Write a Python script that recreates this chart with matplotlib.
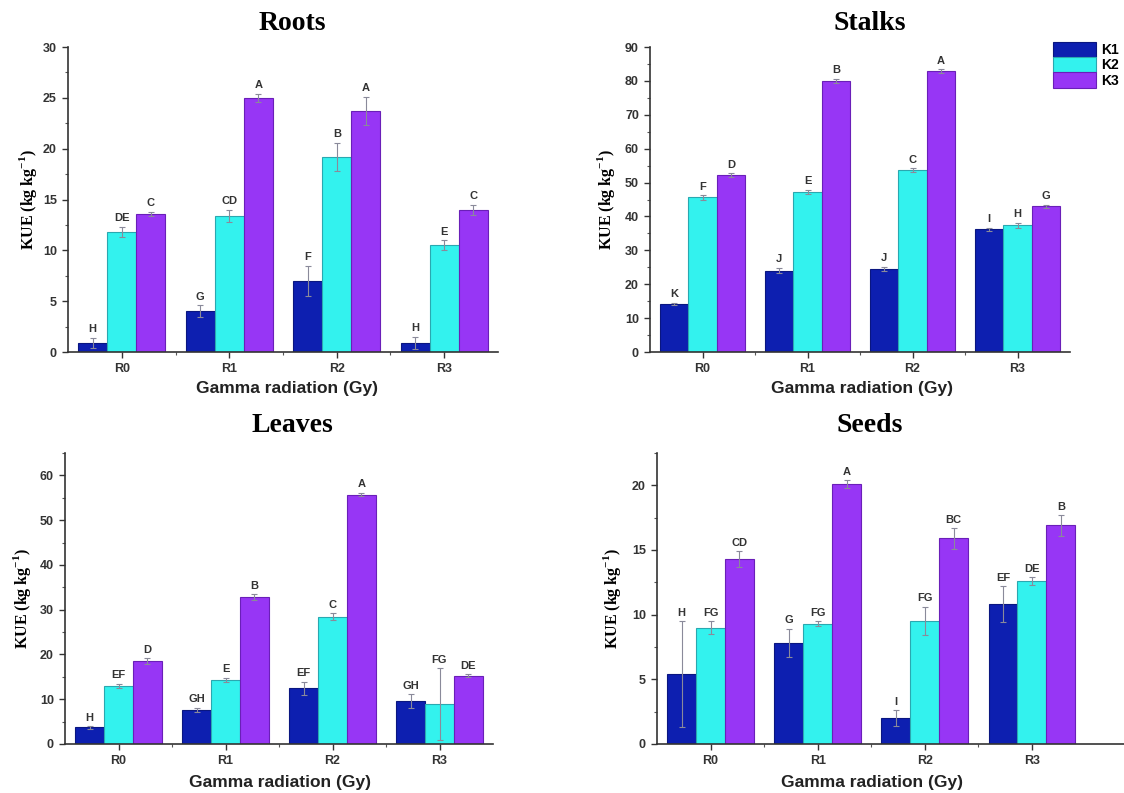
import numpy as np
import matplotlib
matplotlib.use('Agg')
import matplotlib.pyplot as plt
from matplotlib.ticker import AutoMinorLocator, FixedLocator

# ---- data ----
groups = ['R0', 'R1', 'R2', 'R3']
series = ['K1', 'K2', 'K3']

roots_mean = [[0.9, 4.0, 7.0, 0.9], [11.8, 13.4, 19.2, 10.5], [13.6, 25.0, 23.7, 14.0]]
roots_err = [[0.5, 0.6, 1.5, 0.6], [0.5, 0.6, 1.4, 0.5], [0.2, 0.4, 1.4, 0.5]]
roots_lab = [['H', 'G', 'F', 'H'], ['DE', 'CD', 'B', 'E'], ['C', 'A', 'A', 'C']]

stalks_mean = [[14.2, 24.0, 24.5, 36.2], [45.6, 47.2, 53.6, 37.4], [52.2, 80.0, 82.9, 43.0]]
stalks_err = [[0.4, 0.8, 0.6, 0.5], [0.6, 0.7, 0.6, 0.8], [0.5, 0.6, 0.5, 0.4]]
stalks_lab = [['K', 'J', 'J', 'I'], ['F', 'E', 'C', 'H'], ['D', 'B', 'A', 'G']]

leaves_mean = [[3.7, 7.6, 12.4, 9.6], [13.0, 14.3, 28.4, 8.9], [18.5, 32.8, 55.7, 15.3]]
leaves_err = [[0.3, 0.5, 1.5, 1.5], [0.5, 0.5, 0.8, 8.0], [0.7, 0.6, 0.4, 0.3]]
leaves_lab = [['H', 'GH', 'EF', 'GH'], ['EF', 'E', 'C', 'FG'], ['D', 'B', 'A', 'DE']]

seeds_mean = [[5.4, 7.8, 2.0, 10.8], [9.0, 9.3, 9.5, 12.6], [14.3, 20.1, 15.9, 16.9]]
seeds_err = [[4.1, 1.1, 0.6, 1.4], [0.5, 0.2, 1.1, 0.3], [0.6, 0.3, 0.8, 0.8]]
seeds_lab = [['H', 'G', 'I', 'EF'], ['FG', 'FG', 'FG', 'DE'], ['CD', 'A', 'BC', 'B']]

mycolor = ['#0d1fb0', '#33f2ee', '#9736f5']
myedge = ['#0a1680', '#2aa8b0', '#6a1fb8']

W, H = 1124, 793
SANS = 'Liberation Sans'
SERIF = 'Liberation Serif'


def px_rect(l, r, t, b):
    return [l / W, 1 - b / H, (r - l) / W, (b - t) / H]


def draw_panel(fig, rect, mean, err, labs, ymax, ystep, title, title_xy, xlab_xy, ylab_x, xmax=3.5):
    ax = fig.add_axes(px_rect(*rect))
    x = np.arange(len(groups))
    bw = 0.27
    for i in range(len(series)):
        pos = x + (i - 1) * bw
        ax.bar(pos, mean[i], bw, color=mycolor[i], edgecolor=myedge[i], linewidth=0.8,
               label=series[i], zorder=2)
        ax.errorbar(pos, mean[i], yerr=err[i], fmt='none', ecolor='#8a8a9a', elinewidth=0.8,
                    capsize=2, capthick=0.8, zorder=3)
        for j in range(len(groups)):
            ax.text(pos[j], mean[i][j] + err[i][j] + ymax * 0.012, labs[i][j], ha='center', va='bottom',
                    fontsize=8, fontweight='bold', fontname=SANS, color='#333333')

    ax.set_xlim(-0.5, xmax)
    ax.set_ylim(0, ymax)
    ax.set_yticks(np.arange(0, ymax + 0.01, ystep))
    ax.yaxis.set_minor_locator(AutoMinorLocator(2))
    ax.set_xticks(x)
    ax.set_xticklabels(groups)
    ax.xaxis.set_minor_locator(FixedLocator([0.5, 1.5, 2.5]))

    ax.spines['right'].set_visible(False)
    ax.spines['top'].set_visible(False)
    ax.spines['bottom'].set_linewidth(1.2)
    ax.spines['left'].set_linewidth(1.2)
    ax.spines['bottom'].set_color('#333333')
    ax.spines['left'].set_color('#333333')

    ax.tick_params(direction='out', length=4, width=1, colors='#333333', labelsize=9, pad=4)
    ax.tick_params(which='minor', direction='out', length=2.5, width=0.8, colors='#555555')
    for lab in ax.get_xticklabels() + ax.get_yticklabels():
        lab.set_fontname(SANS)
        lab.set_fontweight('bold')
        lab.set_color('#333333')

    fig.text(title_xy[0] / W, 1 - title_xy[1] / H, title, ha='center', va='center',
             fontsize=20, fontweight='bold', fontname=SERIF)
    fig.text(xlab_xy[0] / W, 1 - xlab_xy[1] / H, 'Gamma radiation (Gy)', ha='center', va='center',
             fontsize=12.5, fontweight='bold', fontname=SANS, color='#222222')
    yc = (rect[2] + rect[3]) / 2
    fig.text(ylab_x / W, 1 - yc / H, r'KUE (kg kg$^{\mathbf{-1}}$)', ha='center', va='center',
             rotation=90, fontsize=11.5, fontweight='bold', fontname=SERIF)
    return ax


def main():
    plt.rcParams['mathtext.fontset'] = 'custom'
    plt.rcParams['mathtext.rm'] = SERIF + ':bold'
    plt.rcParams['mathtext.bf'] = SERIF + ':bold'
    fig = plt.figure(figsize=(W / 100, H / 100), dpi=100)

    draw_panel(fig, (68, 498, 47, 352), roots_mean, roots_err, roots_lab, 30, 5,
               'Roots', (292, 23), (287, 388), 28)
    ax2 = draw_panel(fig, (650, 1070, 47, 352), stalks_mean, stalks_err, stalks_lab, 90, 10,
                     'Stalks', (870, 23), (862, 388), 606)
    draw_panel(fig, (65, 493, 453, 744), leaves_mean, leaves_err, leaves_lab, 65, 10,
               'Leaves', (292, 425), (280, 783), 22)
    draw_panel(fig, (657, 1124, 453, 744), seeds_mean, seeds_err, seeds_lab, 22.5, 5,
               'Seeds', (870, 425), (872, 783), 612, xmax=3.86)

    # legend sits at the right edge, as in the original figure
    handles, labels = ax2.get_legend_handles_labels()
    fig.legend(handles, labels, loc='upper left', bbox_to_anchor=(1053 / W, 1 - 42 / H),
               frameon=False, handlelength=3.1, handleheight=1.3, labelspacing=0.0,
               handletextpad=0.4, borderaxespad=0, borderpad=0,
               prop={'family': SANS, 'weight': 'bold', 'size': 10})

    plt.savefig('out.png', dpi=100)
    plt.close('all')


if __name__ == "__main__":
    main()
